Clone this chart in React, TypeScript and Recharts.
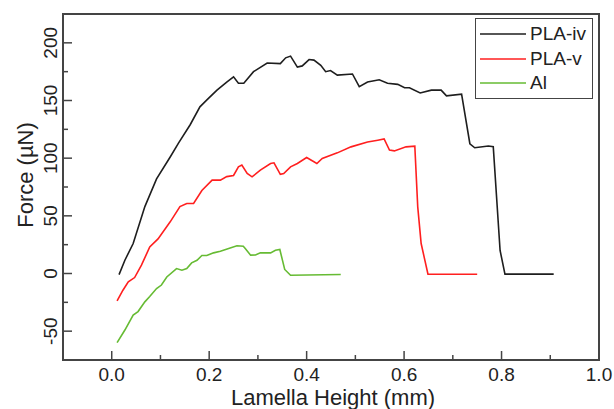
import {
  LineChart,
  Line,
  XAxis,
  YAxis,
  Legend,
  Label,
  ReferenceArea,
} from "recharts";

// PLA-iv (black)
const plaIvX = [
  0.015, 0.027, 0.044, 0.068, 0.092, 0.12, 0.137, 0.161, 0.181, 0.199, 0.216,
  0.236, 0.25, 0.26, 0.271, 0.291, 0.319, 0.346, 0.357, 0.367, 0.381, 0.391,
  0.405, 0.415, 0.429, 0.439, 0.449, 0.463, 0.494, 0.508, 0.525, 0.549, 0.566,
  0.587, 0.601, 0.611, 0.633, 0.656, 0.676, 0.687, 0.718, 0.735, 0.745, 0.773,
  0.783, 0.797, 0.807, 0.907,
];
const plaIvY = [
  -1, 11.5, 26, 58, 82, 101, 113, 129, 144.5, 152, 159, 166, 170.5, 165, 165,
  175, 182.5, 182, 187, 188.5, 179, 180, 185.5, 185, 180.5, 175, 176, 172, 173,
  162, 166, 168, 165, 164, 161, 161, 156.5, 159, 159, 154, 155.5, 112.5, 109,
  110.5, 110, 20, -0.5, -0.5,
];

// PLA-v (red)
const plaVX = [
  0.011, 0.023, 0.034, 0.047, 0.061, 0.078, 0.095, 0.12, 0.14, 0.154, 0.168,
  0.185, 0.206, 0.223, 0.236, 0.25, 0.26, 0.267, 0.278, 0.288, 0.305, 0.326,
  0.333, 0.346, 0.353, 0.367, 0.381, 0.4, 0.421, 0.432, 0.463, 0.491, 0.525,
  0.546, 0.559, 0.57, 0.58, 0.604, 0.622, 0.628, 0.635, 0.649, 0.75,
];
const plaVY = [
  -23.8, -14.5, -7.3, -3.5, 7.2, 23, 30, 44.8, 58, 60.7, 60.7, 72, 81, 81, 84,
  85, 92.5, 94, 86.7, 83.8, 89.6, 95.4, 96, 86, 86.7, 92.5, 95.4, 100.6, 95.4,
  99.7, 104.6, 109.8, 114, 115.6, 116.7, 107, 106.3, 109.8, 110.4, 57.8, 26,
  -0.6, -0.6,
];

// Al (green)
const alX = [
  0.011, 0.027, 0.044, 0.054, 0.068, 0.078, 0.092, 0.102, 0.113, 0.133, 0.144,
  0.154, 0.164, 0.175, 0.185, 0.195, 0.209, 0.223, 0.24, 0.257, 0.27, 0.274,
  0.285, 0.295, 0.305, 0.326, 0.336, 0.345, 0.355, 0.367, 0.47,
];
const alY = [
  -60, -49, -36, -33, -24.6, -20, -13, -10, -3, 4.3, 2.9, 4.3, 9.2, 11.5, 15.6,
  15.6, 17.9, 19.3, 21.7, 24, 23.7, 21.7, 15.9, 16.1, 17.9, 17.9, 20.2, 20.8,
  3.5, -1.5, -0.9,
];

const xTicks = [0, 0.1, 0.2, 0.3, 0.4, 0.5, 0.6, 0.7, 0.8, 0.9, 1.0];
const yTicks = [-50, -25, 0, 25, 50, 75, 100, 125, 150, 175, 200];

const toPoints = (xs: number[], ys: number[]) =>
  xs.map((x, i) => ({ x, y: ys[i] }));

const series = [
  { name: "PLA-iv", color: "#1e1e1e", data: toPoints(plaIvX, plaIvY) },
  { name: "PLA-v", color: "#ff1f1f", data: toPoints(plaVX, plaVY) },
  { name: "Al", color: "#66bb33", data: toPoints(alX, alY) },
];

const FONT = "'Liberation Sans', Arial, sans-serif";
const FRAME = "#444";

const XTick = (props: any) => {
  const { x, y, payload } = props;
  const major = Math.round(payload.value * 10) % 2 === 0;
  return (
    <g>
      <line x1={x} x2={x} y1={y} y2={y - (major ? 9 : 5)} stroke={FRAME} strokeWidth={1.5} />
      {major && (
        <text x={x} y={y + 21} textAnchor="middle" fontSize={19} fill="#222">
          {payload.value.toFixed(1)}
        </text>
      )}
    </g>
  );
};

const YTick = (props: any) => {
  const { x, y, payload } = props;
  const major = payload.value % 50 === 0;
  const tx = x - 6;
  return (
    <g>
      <line x1={x} x2={x + (major ? 9 : 5)} y1={y} y2={y} stroke={FRAME} strokeWidth={1.5} />
      {major && (
        <g transform={`translate(${tx}, ${y}) rotate(-90)`}>
          <text x={0} y={0} textAnchor="middle" fontSize={19} fill="#222">
            {payload.value}
          </text>
        </g>
      )}
    </g>
  );
};

const renderLegend = () => (
  <div
    style={{
      border: `1.5px solid ${FRAME}`,
      background: "#fff",
      padding: "3px 0 2px 0",
      fontFamily: FONT,
      fontSize: 19,
      color: "#222",
    }}
  >
    {series.map((s) => (
      <div key={s.name} style={{ display: "flex", alignItems: "center", height: 24.5 }}>
        <svg width={54} height={10}>
          <line x1={4} x2={50} y1={5} y2={5} stroke={s.color} strokeWidth={1.6} />
        </svg>
        <span>{s.name}</span>
      </div>
    ))}
  </div>
);

export default function App() {
  return (
    <div style={{ position: "absolute", left: 0, top: 0, background: "#fff" }}>
      <LineChart
        width={614}
        height={409}
        margin={{ top: 14, right: 15, left: 0, bottom: 0 }}
        style={{ fontFamily: FONT }}
      >
        <XAxis
          dataKey="x"
          type="number"
          domain={[-0.1, 1.0]}
          ticks={xTicks}
          interval={0}
          height={49}
          tickSize={0}
          tickMargin={0}
          axisLine={false}
          tickLine={false}
          tick={<XTick />}
          allowDataOverflow
        >
          <Label
            content={({ viewBox }: any) => (
              <text
                x={viewBox.x + viewBox.width / 2 + 2}
                y={viewBox.y + 45}
                textAnchor="middle"
                fontSize={22}
                fill="#222"
                fontFamily={FONT}
              >
                Lamella Height (mm)
              </text>
            )}
          />
        </XAxis>
        <YAxis
          type="number"
          domain={[-75, 225]}
          ticks={yTicks}
          interval={0}
          width={63}
          tickSize={0}
          tickMargin={0}
          axisLine={false}
          tickLine={false}
          tick={<YTick />}
          allowDataOverflow
        >
          <Label
            content={({ viewBox }: any) => {
              const cx = viewBox.x + 33;
              const cy = viewBox.y + viewBox.height / 2 - 12;
              return (
                <g transform={`translate(${cx}, ${cy}) rotate(-90)`}>
                  <text
                    x={0}
                    y={0}
                    textAnchor="middle"
                    fontSize={22}
                    fill="#222"
                    fontFamily={FONT}
                  >
                    Force (µN)
                  </text>
                </g>
              );
            }}
          />
        </YAxis>
        <ReferenceArea
          x1={-0.1}
          x2={1.0}
          y1={-75}
          y2={225}
          fill="none"
          stroke={FRAME}
          strokeWidth={2}
          ifOverflow="visible"
        />
        {series.map((s) => (
          <Line
            key={s.name}
            data={s.data}
            dataKey="y"
            name={s.name}
            type="linear"
            stroke={s.color}
            strokeWidth={1.6}
            dot={false}
            activeDot={false}
            isAnimationActive={false}
          />
        ))}
        <Legend
          layout="horizontal"
          verticalAlign="middle"
          align="center"
          content={renderLegend}
          wrapperStyle={{ left: 475, top: 18, width: 118, right: "auto", bottom: "auto" }}
        />
      </LineChart>
    </div>
  );
}
